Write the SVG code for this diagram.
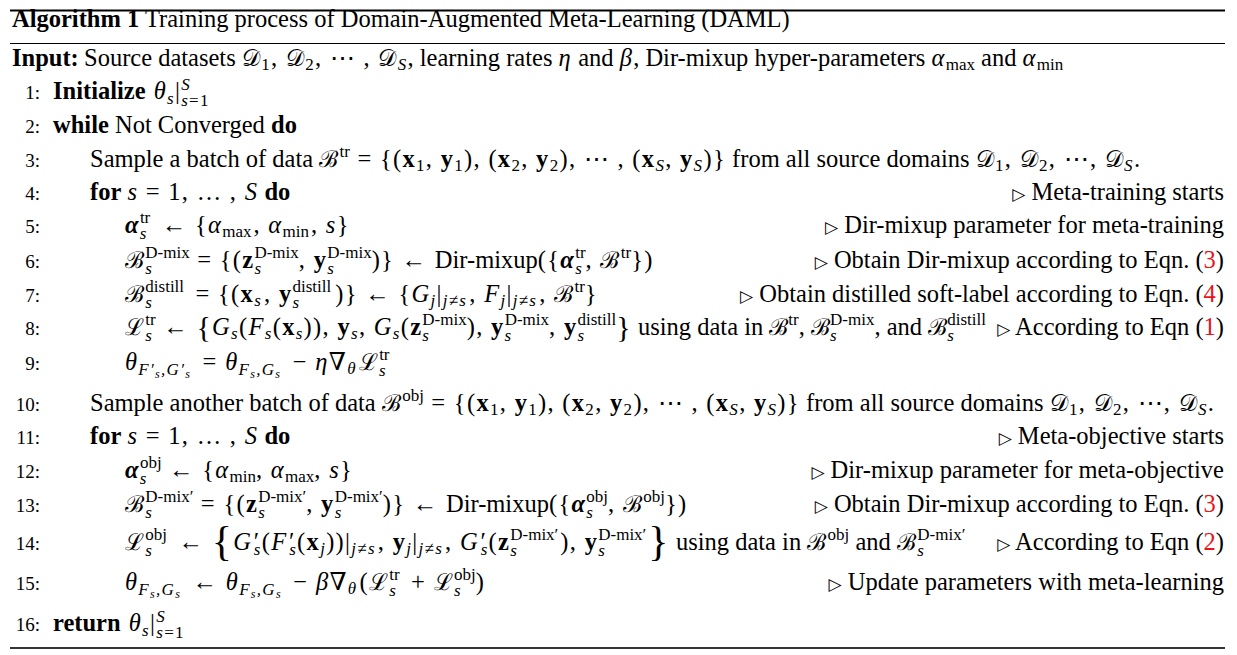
<svg xmlns="http://www.w3.org/2000/svg" width="1237" height="655" viewBox="0 0 1237 655">
<style>
text{font-family:"Liberation Serif","DejaVu Serif",serif;font-size:24.5px;fill:#000}
.n{font-size:19px;text-anchor:end}
.c{text-anchor:end}
.b{font-weight:bold}
.i{font-style:italic}
.bi{font-weight:bold;font-style:italic}
.s{font-size:17px}
.ss{font-size:12px}
.m{letter-spacing:1.3px}
.x{letter-spacing:0}
.k{font-family:"DejaVu Serif","Liberation Serif",serif;font-size:23px}
.r{fill:#e8141a}
.tri{font-family:"DejaVu Sans",sans-serif;font-size:17px}
.br1{font-size:30px}
.br2{font-size:42px}
.rule{stroke:#000;fill:none}
</style>
<rect width="1237" height="655" fill="#fff"/>
<g id="rules">
<line class="rule" x1="10" y1="10.5" x2="1225" y2="10.5" stroke-width="2"/>
<line class="rule" x1="10" y1="43.5" x2="1225" y2="43.5" stroke-width="1"/>
<line class="rule" x1="10" y1="648" x2="1225" y2="648" stroke-width="2" style="stroke:#333"/>
</g>
<g id="title"><text x="12" y="27"><tspan class="b">Algorithm 1</tspan> Training process of Domain-Augmented Meta-Learning (DAML)</text></g>
<g id="input"><text x="12" y="66"><tspan class="b">Input:</tspan><tspan x="84">Source datasets </tspan><tspan class="m"><tspan class="k">𝒟</tspan><tspan class="s" dy="4">1</tspan><tspan dy="-4">, </tspan><tspan class="k">𝒟</tspan><tspan class="s" dy="4">2</tspan><tspan dy="-4">, ⋯ , </tspan><tspan class="k">𝒟</tspan><tspan class="s i" dy="4">S</tspan></tspan><tspan dy="-4">, learning rates </tspan><tspan class="m i">η</tspan> and <tspan class="m i">β</tspan>, Dir-mixup hyper-parameters <tspan class="m"><tspan class="i">α</tspan><tspan class="s x" dy="4">max</tspan></tspan><tspan dy="-4"> and </tspan><tspan class="m"><tspan class="i">α</tspan><tspan class="s x" dy="4">min</tspan></tspan></text></g>

<g id="line1"><text class="n" x="40" y="99">1:</text>
<text x="53" y="99"><tspan class="b">Initialize</tspan> <tspan class="m"><tspan class="i" dx="2">θ</tspan><tspan class="s i" dy="5">s</tspan><tspan dy="-5">|</tspan><tspan class="s i" dy="-9">S</tspan><tspan class="s" dx="-9.8" dy="16"><tspan class="i">s</tspan>=1</tspan></tspan></text></g>

<g id="line2"><text class="n" x="40" y="133">2:</text>
<text x="53" y="133"><tspan class="b">while</tspan> Not Converged <tspan class="b">do</tspan></text></g>

<g id="line3"><text class="n" x="40" y="167">3:</text>
<text x="90" y="167">Sample a batch of data <tspan class="m"><tspan class="k">ℬ</tspan><tspan class="s x" dy="-10">tr</tspan><tspan dy="10"> = {(</tspan><tspan class="b">x</tspan><tspan class="s" dy="4">1</tspan><tspan dy="-4">, </tspan><tspan class="b">y</tspan><tspan class="s" dy="4">1</tspan><tspan dy="-4">), (</tspan><tspan class="b">x</tspan><tspan class="s" dy="4">2</tspan><tspan dy="-4">, </tspan><tspan class="b">y</tspan><tspan class="s" dy="4">2</tspan><tspan dy="-4">), ⋯ , (</tspan><tspan class="b">x</tspan><tspan class="s i" dy="4">S</tspan><tspan dy="-4">, </tspan><tspan class="b">y</tspan><tspan class="s i" dy="4">S</tspan><tspan dy="-4">)}</tspan></tspan> from all source domains <tspan class="m"><tspan class="k">𝒟</tspan><tspan class="s" dy="4">1</tspan><tspan dy="-4">, </tspan><tspan class="k">𝒟</tspan><tspan class="s" dy="4">2</tspan><tspan dy="-4">, ⋯, </tspan><tspan class="k">𝒟</tspan><tspan class="s i" dy="4">S</tspan></tspan><tspan dy="-4">.</tspan></text></g>

<g id="line4"><text class="n" x="40" y="200">4:</text>
<text x="90" y="200"><tspan class="b">for</tspan> <tspan class="m"><tspan class="i">s</tspan> = 1, … , <tspan class="i">S</tspan></tspan> <tspan class="b">do</tspan></text>
<text class="c" x="1224" y="200"><tspan class="tri">▷</tspan> Meta-training starts</text></g>

<g id="line5"><text class="n" x="40" y="233">5:</text>
<text x="125" y="233" class="m"><tspan class="bi">α</tspan><tspan class="s i" dy="6">s</tspan><tspan class="s x" dx="-7.9" dy="-16">tr</tspan><tspan dx="4" dy="10"> ← {</tspan><tspan class="i">α</tspan><tspan class="s x" dy="4">max</tspan><tspan dx="2" dy="-4">, </tspan><tspan class="i">α</tspan><tspan class="s x" dy="4">min</tspan><tspan dx="2" dy="-4">, </tspan><tspan class="i">s</tspan>}</text>
<text class="c" x="1224" y="233"><tspan class="tri">▷</tspan> Dir-mixup parameter for meta-training</text></g>

<g id="line6"><text class="n" x="40" y="268">6:</text>
<text x="125" y="268" class="m"><tspan class="k">ℬ</tspan><tspan class="s i" dy="6">s</tspan><tspan class="s x" dx="-7.9" dy="-16">D-mix</tspan><tspan dy="10"> = {(</tspan><tspan class="b">z</tspan><tspan class="s i" dy="6">s</tspan><tspan class="s x" dx="-7.9" dy="-16">D-mix</tspan><tspan dy="10">, </tspan><tspan class="b">y</tspan><tspan class="s i" dy="6">s</tspan><tspan class="s x" dx="-7.9" dy="-16">D-mix</tspan><tspan dy="10">)} ← </tspan><tspan class="x">Dir-mixup</tspan>({<tspan class="bi">α</tspan><tspan class="s i" dy="6">s</tspan><tspan class="s x" dx="-7.9" dy="-16">tr</tspan><tspan dy="10">, </tspan><tspan class="k">ℬ</tspan><tspan class="s x" dy="-10">tr</tspan><tspan dy="10">})</tspan></text>
<text class="c" x="1224" y="268"><tspan class="tri">▷</tspan> Obtain Dir-mixup according to Eqn. (<tspan class="r">3</tspan>)</text></g>

<g id="line7"><text class="n" x="40" y="302">7:</text>
<text x="125" y="302" class="m"><tspan class="k">ℬ</tspan><tspan class="s i" dy="6">s</tspan><tspan class="s x" dx="-7.9" dy="-16">distill</tspan><tspan dx="4" dy="10"> = {(</tspan><tspan class="b">x</tspan><tspan class="s i" dy="4">s</tspan><tspan dx="2" dy="-4">, </tspan><tspan class="b">y</tspan><tspan class="s i" dy="6">s</tspan><tspan class="s x" dx="-7.9" dy="-16">distill</tspan><tspan dx="4" dy="10">)} ← {</tspan><tspan class="i">G</tspan><tspan class="s i" dy="4">j</tspan><tspan dy="-4">|</tspan><tspan class="s i" dy="4">j≠s</tspan><tspan dx="2" dy="-4">, </tspan><tspan class="i">F</tspan><tspan class="s i" dy="4">j</tspan><tspan dy="-4">|</tspan><tspan class="s i" dy="4">j≠s</tspan><tspan dx="2" dy="-4">, </tspan><tspan class="k">ℬ</tspan><tspan class="s x" dy="-10">tr</tspan><tspan dy="10">}</tspan></text>
<text class="c" x="1224" y="302"><tspan class="tri">▷</tspan> Obtain distilled soft-label according to Eqn. (<tspan class="r">4</tspan>)</text></g>

<g id="line8"><text class="n" x="40" y="335">8:</text>
<text x="125" y="335"><tspan class="m"><tspan class="k">ℒ</tspan><tspan class="s i" dy="6">s</tspan><tspan class="s x" dx="-7.9" dy="-16">tr</tspan><tspan dy="10"> ← </tspan><tspan class="br1" dy="2">{</tspan><tspan class="i" dy="-2">G</tspan><tspan class="s i" dy="4">s</tspan><tspan dy="-4">(</tspan><tspan class="i">F</tspan><tspan class="s i" dy="4">s</tspan><tspan dy="-4">(</tspan><tspan class="b">x</tspan><tspan class="s i" dy="4">s</tspan><tspan dy="-4">)), </tspan><tspan class="b">y</tspan><tspan class="s i" dy="4">s</tspan><tspan dy="-4">, </tspan><tspan class="i">G</tspan><tspan class="s i" dy="4">s</tspan><tspan dy="-4">(</tspan><tspan class="b">z</tspan><tspan class="s i" dy="6">s</tspan><tspan class="s x" dx="-7.9" dy="-16">D-mix</tspan><tspan dy="10">), </tspan><tspan class="b">y</tspan><tspan class="s i" dy="6">s</tspan><tspan class="s x" dx="-7.9" dy="-16">D-mix</tspan><tspan dy="10">, </tspan><tspan class="b">y</tspan><tspan class="s i" dy="6">s</tspan><tspan class="s x" dx="-7.9" dy="-16">distill</tspan><tspan class="br1" dy="12">}</tspan></tspan><tspan dy="-2"> using data in </tspan><tspan class="k">ℬ</tspan><tspan class="s" dy="-10">tr</tspan><tspan dy="10">, </tspan><tspan class="k">ℬ</tspan><tspan class="s i" dy="6">s</tspan><tspan class="s" dx="-6.6" dy="-16">D-mix</tspan><tspan dy="10">, and </tspan><tspan class="k">ℬ</tspan><tspan class="s i" dy="6">s</tspan><tspan class="s" dx="-6.6" dy="-16">distill</tspan></text>
<text class="c" x="1224" y="335"><tspan class="tri">▷</tspan> According to Eqn (<tspan class="r">1</tspan>)</text></g>

<g id="line9"><text class="n" x="40" y="370">9:</text>
<text x="125" y="370" class="m"><tspan class="i">θ</tspan><tspan class="s i" dy="5">F′</tspan><tspan class="ss i" dy="3">s</tspan><tspan class="s i" dy="-3">,G′</tspan><tspan class="ss i" dy="3">s</tspan><tspan dx="4" dy="-8"> = </tspan><tspan class="i">θ</tspan><tspan class="s i" dy="5">F</tspan><tspan class="ss i" dy="3">s</tspan><tspan class="s i" dy="-3">,G</tspan><tspan class="ss i" dy="3">s</tspan><tspan dx="4" dy="-8"> − </tspan><tspan class="i">η</tspan>∇<tspan class="s i" dy="4">θ</tspan><tspan class="k" dx="2" dy="-4">ℒ</tspan><tspan class="s i" dy="6">s</tspan><tspan class="s x" dx="-7.9" dy="-16">tr</tspan></text></g>

<g id="line10"><text class="n" x="40" y="411">10:</text>
<text x="90" y="411">Sample another batch of data <tspan class="m"><tspan class="k">ℬ</tspan><tspan class="s x" dy="-10">obj</tspan><tspan dy="10"> = {(</tspan><tspan class="b">x</tspan><tspan class="s" dy="4">1</tspan><tspan dy="-4">, </tspan><tspan class="b">y</tspan><tspan class="s" dy="4">1</tspan><tspan dy="-4">), (</tspan><tspan class="b">x</tspan><tspan class="s" dy="4">2</tspan><tspan dy="-4">, </tspan><tspan class="b">y</tspan><tspan class="s" dy="4">2</tspan><tspan dy="-4">), ⋯ , (</tspan><tspan class="b">x</tspan><tspan class="s i" dy="4">S</tspan><tspan dy="-4">, </tspan><tspan class="b">y</tspan><tspan class="s i" dy="4">S</tspan><tspan dy="-4">)}</tspan></tspan> from all source domains <tspan class="m"><tspan class="k">𝒟</tspan><tspan class="s" dy="4">1</tspan><tspan dy="-4">, </tspan><tspan class="k">𝒟</tspan><tspan class="s" dy="4">2</tspan><tspan dy="-4">, ⋯, </tspan><tspan class="k">𝒟</tspan><tspan class="s i" dy="4">S</tspan></tspan><tspan dy="-4">.</tspan></text></g>

<g id="line11"><text class="n" x="40" y="444">11:</text>
<text x="90" y="444"><tspan class="b">for</tspan> <tspan class="m"><tspan class="i">s</tspan> = 1, … , <tspan class="i">S</tspan></tspan> <tspan class="b">do</tspan></text>
<text class="c" x="1224" y="444"><tspan class="tri">▷</tspan> Meta-objective starts</text></g>

<g id="line12"><text class="n" x="40" y="478">12:</text>
<text x="125" y="478" class="m"><tspan class="bi">α</tspan><tspan class="s i" dy="6">s</tspan><tspan class="s x" dx="-7.9" dy="-16">obj</tspan><tspan dy="10"> ← {</tspan><tspan class="i">α</tspan><tspan class="s x" dy="4">min</tspan><tspan dy="-4">, </tspan><tspan class="i">α</tspan><tspan class="s x" dy="4">max</tspan><tspan dy="-4">, </tspan><tspan class="i">s</tspan>}</text>
<text class="c" x="1224" y="478"><tspan class="tri">▷</tspan> Dir-mixup parameter for meta-objective</text></g>

<g id="line13"><text class="n" x="40" y="512">13:</text>
<text x="125" y="512" class="m"><tspan class="k">ℬ</tspan><tspan class="s i" dy="6">s</tspan><tspan class="s x" dx="-7.9" dy="-16">D-mix′</tspan><tspan dy="10"> = {(</tspan><tspan class="b">z</tspan><tspan class="s i" dy="6">s</tspan><tspan class="s x" dx="-7.9" dy="-16">D-mix′</tspan><tspan dy="10">, </tspan><tspan class="b">y</tspan><tspan class="s i" dy="6">s</tspan><tspan class="s x" dx="-7.9" dy="-16">D-mix′</tspan><tspan dy="10">)} ← </tspan><tspan class="x">Dir-mixup</tspan>({<tspan class="bi">α</tspan><tspan class="s i" dy="6">s</tspan><tspan class="s x" dx="-7.9" dy="-16">obj</tspan><tspan dy="10">, </tspan><tspan class="k">ℬ</tspan><tspan class="s x" dy="-10">obj</tspan><tspan dy="10">})</tspan></text>
<text class="c" x="1224" y="512"><tspan class="tri">▷</tspan> Obtain Dir-mixup according to Eqn. (<tspan class="r">3</tspan>)</text></g>

<g id="line14"><text class="n" x="40" y="550">14:</text>
<text x="125" y="550"><tspan class="m"><tspan class="k">ℒ</tspan><tspan class="s i" dy="6">s</tspan><tspan class="s x" dx="-7.9" dy="-16">obj</tspan><tspan dx="4" dy="10"> ← </tspan><tspan class="br2" dy="5">{</tspan><tspan class="i" dy="-5">G′</tspan><tspan class="s i" dx="-5" dy="5">s</tspan><tspan dy="-5">(</tspan><tspan class="i">F′</tspan><tspan class="s i" dx="-5" dy="5">s</tspan><tspan dy="-5">(</tspan><tspan class="b">x</tspan><tspan class="s i" dy="4">j</tspan><tspan dy="-4">))|</tspan><tspan class="s i" dy="4">j≠s</tspan><tspan dx="2" dy="-4">, </tspan><tspan class="b">y</tspan><tspan class="s i" dy="4">j</tspan><tspan dy="-4">|</tspan><tspan class="s i" dy="4">j≠s</tspan><tspan dx="2" dy="-4">, </tspan><tspan class="i">G′</tspan><tspan class="s i" dx="-5" dy="5">s</tspan><tspan dy="-5">(</tspan><tspan class="b">z</tspan><tspan class="s i" dy="6">s</tspan><tspan class="s x" dx="-7.9" dy="-16">D-mix′</tspan><tspan dx="2" dy="10">), </tspan><tspan class="b">y</tspan><tspan class="s i" dy="6">s</tspan><tspan class="s x" dx="-7.9" dy="-16">D-mix′</tspan><tspan class="br2" dx="2" dy="15">}</tspan></tspan><tspan dy="-5"> using data in </tspan><tspan class="m"><tspan class="k">ℬ</tspan><tspan class="s x" dy="-10">obj</tspan></tspan><tspan dy="10"> and </tspan><tspan class="m"><tspan class="k">ℬ</tspan><tspan class="s i" dy="6">s</tspan><tspan class="s x" dx="-7.9" dy="-16">D-mix′</tspan></tspan></text>
<text class="c" x="1224" y="550"><tspan class="tri">▷</tspan> According to Eqn (<tspan class="r">2</tspan>)</text></g>

<g id="line15"><text class="n" x="40" y="590">15:</text>
<text x="125" y="590" class="m"><tspan class="i">θ</tspan><tspan class="s i" dy="5">F</tspan><tspan class="ss i" dy="3">s</tspan><tspan class="s i" dy="-3">,G</tspan><tspan class="ss i" dy="3">s</tspan><tspan dx="4" dy="-8"> ← </tspan><tspan class="i">θ</tspan><tspan class="s i" dy="5">F</tspan><tspan class="ss i" dy="3">s</tspan><tspan class="s i" dy="-3">,G</tspan><tspan class="ss i" dy="3">s</tspan><tspan dx="4" dy="-8"> − </tspan><tspan class="i">β</tspan>∇<tspan class="s i" dy="4">θ</tspan><tspan dx="2" dy="-4">(</tspan><tspan class="k">ℒ</tspan><tspan class="s i" dy="6">s</tspan><tspan class="s x" dx="-7.9" dy="-16">tr</tspan><tspan dx="4" dy="10"> + </tspan><tspan class="k">ℒ</tspan><tspan class="s i" dy="6">s</tspan><tspan class="s x" dx="-7.9" dy="-16">obj</tspan><tspan dy="10">)</tspan></text>
<text class="c" x="1224" y="590"><tspan class="tri">▷</tspan> Update parameters with meta-learning</text></g>

<g id="line16"><text class="n" x="40" y="631">16:</text>
<text x="53" y="631"><tspan class="b">return</tspan> <tspan class="m"><tspan class="i" dx="2">θ</tspan><tspan class="s i" dy="5">s</tspan><tspan dy="-5">|</tspan><tspan class="s i" dy="-9">S</tspan><tspan class="s" dx="-9.8" dy="16"><tspan class="i">s</tspan>=1</tspan></tspan></text></g>
</svg>
